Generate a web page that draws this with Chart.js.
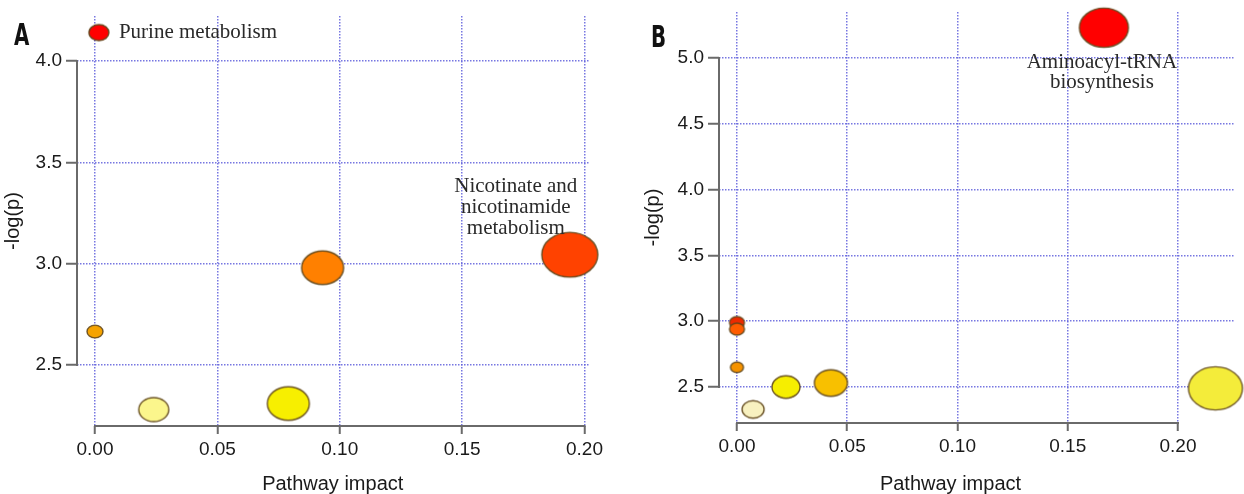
<!DOCTYPE html>
<html>
<head>
<meta charset="utf-8">
<script src="https://cdn.jsdelivr.net/npm/chart.js@4.4.1/dist/chart.umd.min.js"></script>
<style>
  html, body { margin: 0; padding: 0; background: #fff; }
  #wrap { position: relative; width: 1244px; height: 494px; overflow: hidden; }
  #boxA { position: absolute; left: 0; top: 0; }
  #boxB { position: absolute; left: 620px; top: 0; }
  .tag { position: absolute; font-family: "DejaVu Sans", sans-serif; font-weight: bold; font-size: 30px; line-height: 1;
         color: #111; transform: scaleX(0.66); transform-origin: left top; }
</style>
</head>
<body>
<div id="wrap">
  <canvas id="boxA" width="620" height="494"></canvas>
  <canvas id="boxB" width="624" height="494"></canvas>
  <div class="tag" style="left:14px;top:20px">A</div>
  <div class="tag" style="left:651px;top:22px">B</div>
</div>
<script>
// panel A
const impactA = [0.0016, 0.194, 0.093, 0.0, 0.024, 0.079];
const logpA = [4.14, 3.044, 2.98, 2.665, 2.28, 2.31];
const radiusA = [10, 28, 21, 8, 15, 21];
const xTicksA = [0, 0.05, 0.10, 0.15, 0.20];
const yTicksA = [2.5, 3.0, 3.5, 4.0];

// panel B
const impactB = [0.1664, 0.0, 0.0, 0.0, 0.0073, 0.0222, 0.0426, 0.217];
const logpB = [5.23, 2.99, 2.94, 2.65, 2.33, 2.50, 2.53, 2.49];
const radiusB = [24.5, 7.5, 7.5, 6.5, 11, 14, 16.5, 27];
const xTicksB = [0, 0.05, 0.10, 0.15, 0.20];
const yTicksB = [2.5, 3.0, 3.5, 4.0, 4.5, 5.0];

const colorsA = ['#ff0000', '#ff4200', '#ff8000', '#f5a300', '#fbf68c', '#f7ef00'];
const colorsB = ['#ff0000', '#ec2a00', '#ff5c00', '#f59200', '#f8f1c0', '#f6ee00', '#f8c000', '#f4ec3a'];

const gridColor = 'rgba(95,95,220,0.85)';
const axisColor = '#6a6a6a';
const tickFont = { family: 'Liberation Sans, Arial, sans-serif', size: 19 };
const titleFont = { family: 'Liberation Sans, Arial, sans-serif', size: 20 };
const serif = 'Liberation Serif, Times New Roman, serif';

function ellipse(rx, fill) {
  const ry = rx * 0.8;
  const c = document.createElement('canvas');
  c.width = Math.ceil(rx * 2 + 4);
  c.height = Math.ceil(ry * 2 + 4);
  const g = c.getContext('2d');
  g.beginPath();
  g.ellipse(c.width / 2, c.height / 2, rx, ry, 0, 0, Math.PI * 2);
  g.fillStyle = fill;
  g.fill();
  g.lineWidth = 1.4;
  g.strokeStyle = 'rgba(95,70,25,0.9)';
  g.stroke();
  return c;
}

// axis lines that only span the first..last tick, x title and point labels
const decor = {
  id: 'decor',
  afterDatasetsDraw(chart) {
    const o = chart.options.plugins.decor;
    const ctx = chart.ctx, xs = chart.scales.x, ys = chart.scales.y, a = chart.chartArea;
    ctx.save();
    ctx.strokeStyle = axisColor;
    ctx.lineWidth = 2;
    ctx.beginPath();
    ctx.moveTo(xs.getPixelForValue(o.xTicks[0]) - 1, a.bottom);
    ctx.lineTo(xs.getPixelForValue(o.xTicks[o.xTicks.length - 1]) + 1, a.bottom);
    ctx.moveTo(a.left, ys.getPixelForValue(o.yTicks[0]) + 1);
    ctx.lineTo(a.left, ys.getPixelForValue(o.yTicks[o.yTicks.length - 1]) - 1);
    ctx.stroke();

    ctx.fillStyle = '#1a1a1a';
    ctx.font = '20px Liberation Sans, Arial, sans-serif';
    ctx.textAlign = 'center';
    ctx.textBaseline = 'middle';
    const mid = (xs.getPixelForValue(o.xTicks[0]) + xs.getPixelForValue(o.xTicks[o.xTicks.length - 1])) / 2;
    ctx.fillText('Pathway impact', mid - 7, 484);

    const pts = chart.getDatasetMeta(0).data;
    ctx.fillStyle = '#2a2a2a';
    o.labels.forEach(l => {
      const p = pts[l.i];
      ctx.font = l.size + 'px ' + serif;
      ctx.textAlign = l.align;
      l.lines.forEach((t, k) => ctx.fillText(t, p.x + l.dx, p.y + l.dy + k * l.lh));
    });
    ctx.restore();
  }
};

function noPad(s) {
  s.paddingTop = 0; s.paddingBottom = 0; s.paddingLeft = 0; s.paddingRight = 0;
}

function panel(id, xs, ys, rs, cols, xTicks, yTicks, lim, pad, yWidth, xHeight, titlePad, labels) {
  return new Chart(document.getElementById(id), {
    type: 'scatter',
    data: {
      datasets: [{
        data: xs.map((v, i) => ({ x: v, y: ys[i] })),
        pointStyle: rs.map((r, i) => ellipse(r, cols[i])),
        pointRadius: rs,
        clip: false
      }]
    },
    options: {
      responsive: false,
      animation: false,
      events: [],
      layout: { padding: pad, autoPadding: false },
      plugins: { legend: { display: false }, tooltip: { enabled: false }, decor: { xTicks, yTicks, labels } },
      scales: {
        x: {
          type: 'linear', min: lim[0], max: lim[1],
          afterBuildTicks: s => { s.ticks = xTicks.map(v => ({ value: v })); },
          afterFit: s => { s.height = xHeight; noPad(s); },
          grid: { color: gridColor, lineWidth: 1.5, borderDash: [1.5, 1.5], tickColor: axisColor,
                  tickBorderDash: [], tickLength: 8, tickWidth: 2 },
          border: { display: false, dash: [1.5, 1.5] },
          ticks: { font: tickFont, color: '#1a1a1a', padding: 4, maxRotation: 0, autoSkip: false,
                   callback: v => v.toFixed(2) }
        },
        y: {
          type: 'linear', min: lim[2], max: lim[3],
          afterBuildTicks: s => { s.ticks = yTicks.map(v => ({ value: v })); },
          afterFit: s => { s.width = yWidth; noPad(s); },
          grid: { color: gridColor, lineWidth: 1.5, borderDash: [1.5, 1.5], tickColor: axisColor,
                  tickBorderDash: [], tickLength: 11, tickWidth: 2 },
          border: { display: false, dash: [1.5, 1.5] },
          ticks: { font: tickFont, color: '#1a1a1a', padding: 4, autoSkip: false,
                   callback: v => v.toFixed(1) },
          title: { display: true, text: '-log(p)', font: titleFont, color: '#1a1a1a', padding: { top: titlePad, bottom: 0 } }
        }
      }
    },
    plugins: [decor]
  });
}

panel('boxA', impactA, logpA, radiusA, colorsA, xTicksA, yTicksA,
  [-0.00735, 0.20225, 2.199, 4.222], { left: 0, top: 16, right: 30, bottom: 0 }, 77, 68, 1,
  [
    { i: 0, lines: ['Purine metabolism'], dx: 20, dy: 0, lh: 0, size: 21, align: 'left' },
    { i: 1, lines: ['Nicotinate and', 'nicotinamide', 'metabolism'], dx: -54, dy: -68, lh: 21, size: 21, align: 'center' }
  ]);

panel('boxB', impactB, logpB, radiusB, colorsB, xTicksB, yTicksB,
  [-0.00816, 0.22585, 2.2265, 5.3495], { left: 0, top: 12, right: 9, bottom: 0 }, 99, 71, 21,
  [
    { i: 0, lines: ['Aminoacyl-tRNA', 'biosynthesis'], dx: -2, dy: 35, lh: 20, size: 21, align: 'center' }
  ]);
</script>
</body>
</html>
